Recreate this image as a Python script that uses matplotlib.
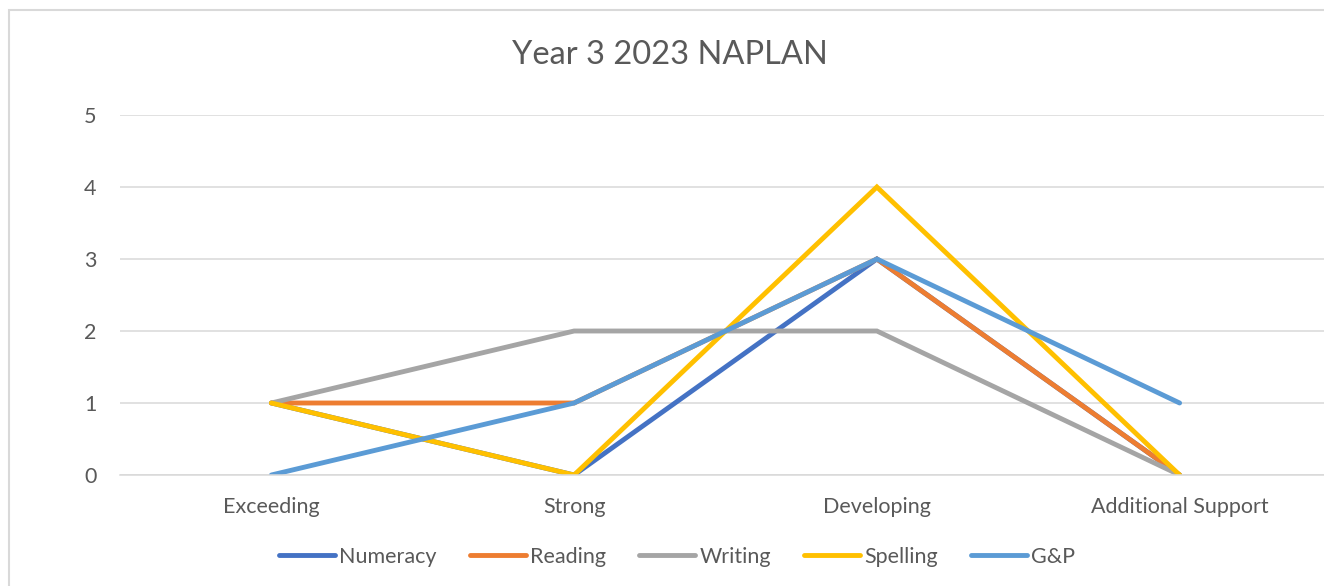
import matplotlib.pyplot as plt
from matplotlib.patches import Rectangle

plt.rcParams['font.family'] = ['Lato', 'DejaVu Sans']

categories = ["Exceeding", "Strong", "Developing", "Additional Support"]
numeracy = [1, 0, 3, 0]
reading = [1, 1, 3, 0]
writing = [1, 2, 2, 0]
spelling = [1, 0, 4, 0]
gp = [0, 1, 3, 1]

series = [
    ("Numeracy", numeracy, "#4472C4"),
    ("Reading", reading, "#ED7D31"),
    ("Writing", writing, "#A5A5A5"),
    ("Spelling", spelling, "#FFC000"),
    ("G&P", gp, "#5B9BD5"),
]

text_color = "#595959"
grid_color = "#D9D9D9"


def main():
    fig = plt.figure(figsize=(13.24, 5.86), dpi=100)
    W, H = 1324, 586

    # chart area border (Excel style), runs off the right and bottom edge
    fig.patches.append(Rectangle((9 / W, -0.05), 1.1, 1 - 10 / H + 0.05,
                                 transform=fig.transFigure, fill=False,
                                 edgecolor=grid_color, linewidth=1.5))

    ax = fig.add_axes([120 / W, 1 - 475 / H, (1331 - 120) / W, 360 / H])
    x = range(len(categories))
    for name, vals, color in series:
        ax.plot(x, vals, label=name, color=color, linewidth=3.5,
                solid_capstyle="round", solid_joinstyle="miter")

    ax.set_xlim(-0.5, len(categories) - 0.5)
    ax.set_ylim(0, 5)
    ax.set_xticks(list(x))
    ax.set_xticklabels(categories)
    ax.set_yticks(range(6))
    ax.grid(axis="y", color=grid_color, linewidth=1.1)
    ax.set_axisbelow(True)
    for side in ["left", "right", "top"]:
        ax.spines[side].set_visible(False)
    ax.spines["bottom"].set_color(grid_color)
    ax.spines["bottom"].set_linewidth(1.1)
    ax.tick_params(axis="both", length=0, labelsize=15.5, labelcolor=text_color)
    ax.tick_params(axis="x", pad=16)
    ax.tick_params(axis="y", pad=17)

    fig.text(670 / W, 1 - 55 / H, "Year 3 2023 NAPLAN", ha="center", va="center",
             fontsize=23.5, color=text_color)

    leg = fig.legend(loc="center", bbox_to_anchor=(677 / W, 1 - 557 / H), ncol=5,
                     frameon=False, fontsize=15.5, handlelength=2.6, handletextpad=0.19,
                     columnspacing=1.55, labelcolor=text_color)
    for line in leg.get_lines():
        line.set_linewidth(3.5)

    fig.savefig("out.png", dpi=100)


if __name__ == "__main__":
    main()
